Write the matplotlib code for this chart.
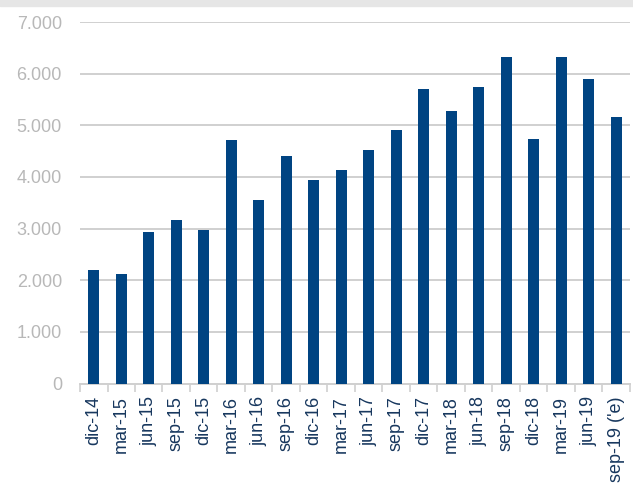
import matplotlib
matplotlib.use("Agg")
import matplotlib.pyplot as plt
import numpy as np
from matplotlib.ticker import FuncFormatter, FixedLocator
from matplotlib.patches import Rectangle

periodos = ["dic-14", "mar-15", "jun-15", "sep-15", "dic-15", "mar-16", "jun-16",
            "sep-16", "dic-16", "mar-17", "jun-17", "sep-17", "dic-17", "mar-18",
            "jun-18", "sep-18", "dic-18", "mar-19", "jun-19", "sep-19 ('e)"]
valores = [2200, 2120, 2930, 3160, 2970, 4710, 3550, 4400, 3940, 4130,
           4520, 4900, 5700, 5280, 5740, 6320, 4740, 6320, 5900, 5160]

plt.rcParams['font.family'] = ['Liberation Sans', 'DejaVu Sans']

fig = plt.figure(figsize=(6.33, 4.87), dpi=100)
# franja gris arriba
fig.patches.append(Rectangle((0, 0.988), 1, 0.012, transform=fig.transFigure,
                             color='#e6e6e6', zorder=0))
ax = fig.add_axes([0.1264, 0.2125, 0.8686, 0.7423])

x = np.arange(len(valores))
ax.bar(x, valores, width=0.4, color='#004482', zorder=3)

ax.set_xlim(-0.5, len(valores) - 0.5)
ax.set_ylim(0, 7000)
ax.set_yticks(np.arange(0, 7001, 1000))
ax.yaxis.set_major_formatter(FuncFormatter(lambda v, p: f"{int(v):,}".replace(",", ".")))
ax.grid(axis='y', color='#d0d0d0', linewidth=1.4, zorder=0)
ax.set_axisbelow(True)

ax.set_xticks(x)
ax.set_xticklabels(periodos, rotation=90, fontsize=13, color='#17375e')
ax.xaxis.set_minor_locator(FixedLocator(np.arange(-0.5, len(valores), 1)))
ax.tick_params(axis='x', which='major', length=0, pad=9)
ax.tick_params(axis='x', which='minor', length=6, width=1.2, color='#d0d0d0')
ax.tick_params(axis='y', length=0, pad=13, labelsize=13, labelcolor='#b8b8b8')

for s in ['top', 'right', 'left']:
    ax.spines[s].set_visible(False)
ax.spines['bottom'].set_color('#d0d0d0')
ax.spines['bottom'].set_linewidth(1.4)

fig.savefig("out.png", dpi=100)
